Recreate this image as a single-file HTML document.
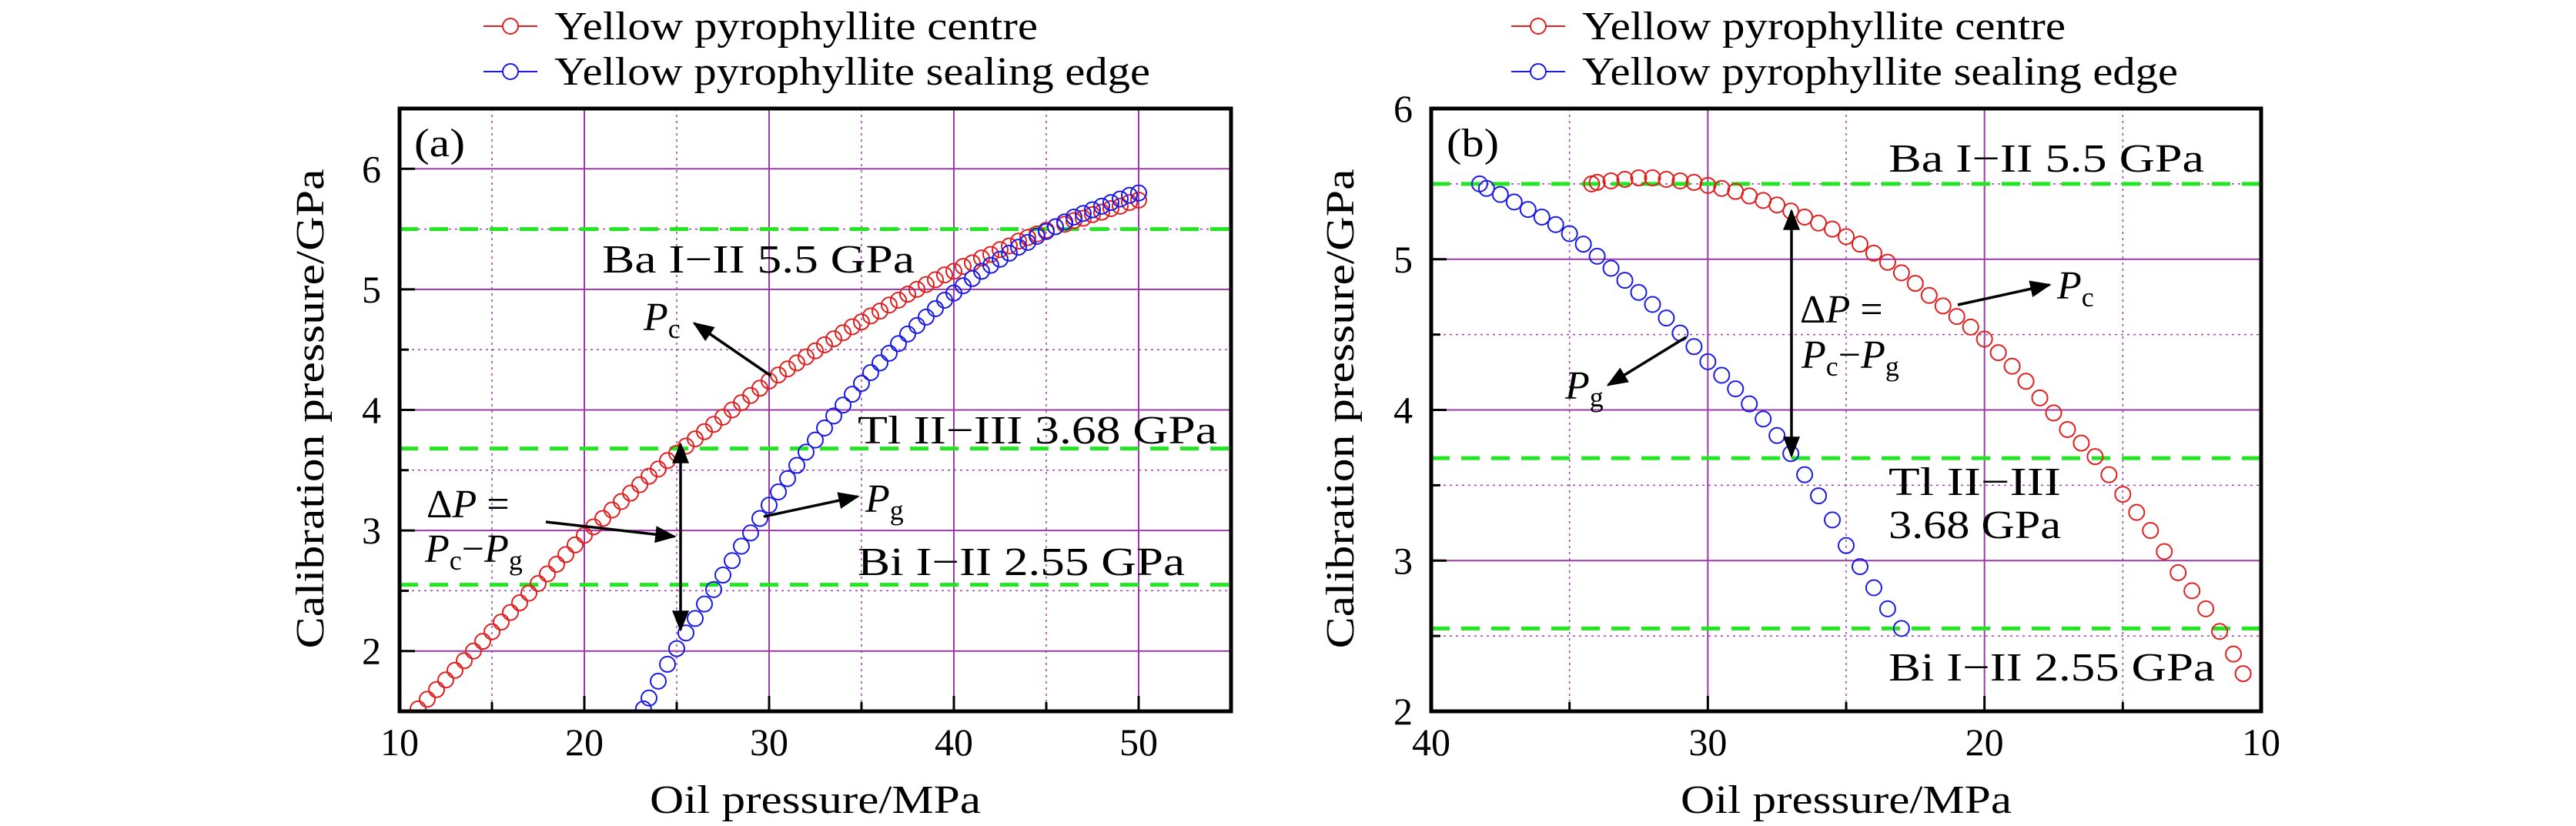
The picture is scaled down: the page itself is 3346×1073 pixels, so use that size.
<!DOCTYPE html>
<html><head><meta charset="utf-8">
<style>
html,body{margin:0;padding:0;background:#fff;}
svg{display:block;font-family:"Liberation Serif","DejaVu Serif",serif;}
</style></head>
<body>
<svg id="chart" width="3346" height="1073" viewBox="0 0 3346 1073" xmlns="http://www.w3.org/2000/svg">
<defs>
<clipPath id="clipA"><rect x="519" y="141" width="1080" height="783"/></clipPath>
<clipPath id="clipB"><rect x="1859" y="141" width="1078" height="783"/></clipPath>
</defs>
<g id="gA"></g>
<g id="gB"></g>
</svg>
<script>
// ---- Panel (a) data ----
const aRedX = [11,11.5,12,12.5,13,13.5,14,14.5,15,15.5,16,16.5,17,17.5,18,18.5,19,19.5,20,20.5,21,21.5,22,22.5,23,23.5,24,24.5,25,25.5,26,26.5,27,27.5,28,28.5,29,29.5,30,30.5,31,31.5,32,32.5,33,33.5,34,34.5,35,35.5,36,36.5,37,37.5,38,38.5,39,39.5,40,40.5,41,41.5,42,42.5,43,43.5,44,44.5,45,45.5,46,46.5,47,47.5,48,48.5,49,49.5,50];
const aRedY = [1.52,1.60,1.68,1.76,1.84,1.92,2.00,2.08,2.16,2.24,2.32,2.40,2.48,2.56,2.64,2.72,2.80,2.88,2.96,3.03,3.10,3.17,3.24,3.31,3.38,3.45,3.51,3.58,3.64,3.70,3.76,3.82,3.88,3.94,4.00,4.06,4.12,4.18,4.24,4.29,4.34,4.39,4.44,4.49,4.54,4.59,4.64,4.69,4.73,4.78,4.82,4.87,4.91,4.96,5.00,5.04,5.08,5.12,5.15,5.19,5.22,5.26,5.29,5.33,5.36,5.40,5.43,5.46,5.49,5.52,5.54,5.57,5.59,5.62,5.64,5.67,5.69,5.72,5.74];
const aBlueX = [23.2,23.5,24,24.5,25,25.5,26,26.5,27,27.5,28,28.5,29,29.5,30,30.5,31,31.5,32,32.5,33,33.5,34,34.5,35,35.5,36,36.5,37,37.5,38,38.5,39,39.5,40,40.5,41,41.5,42,42.5,43,43.5,44,44.5,45,45.5,46,46.5,47,47.5,48,48.5,49,49.5,50];
const aBlueY = [1.52,1.61,1.75,1.89,2.02,2.15,2.27,2.39,2.51,2.63,2.75,2.87,2.98,3.10,3.21,3.32,3.43,3.54,3.65,3.75,3.85,3.95,4.04,4.13,4.22,4.31,4.39,4.47,4.55,4.63,4.70,4.77,4.84,4.91,4.97,5.03,5.09,5.15,5.20,5.25,5.30,5.35,5.39,5.44,5.48,5.52,5.56,5.60,5.63,5.66,5.69,5.72,5.75,5.78,5.80];
const aXTicks = [10,20,30,40,50];
const aXMinor = [15,25,35,45];
const aYTicks = [2,3,4,5,6];
const aYMinor = [2.5,3.5,4.5,5.5];
const aRefLines = [5.5,3.68,2.55];
// ---- Panel (b) data ----
const bRedX = [34.2,34,33.5,33,32.5,32,31.5,31,30.5,30,29.5,29,28.5,28,27.5,27,26.5,26,25.5,25,24.5,24,23.5,23,22.5,22,21.5,21,20.5,20,19.5,19,18.5,18,17.5,17,16.5,16,15.5,15,14.5,14,13.5,13,12.5,12,11.5,11,10.65];
const bRedY = [5.50,5.51,5.52,5.53,5.54,5.54,5.53,5.52,5.51,5.49,5.47,5.45,5.42,5.39,5.36,5.32,5.28,5.24,5.20,5.15,5.10,5.04,4.98,4.91,4.84,4.76,4.69,4.62,4.55,4.47,4.38,4.29,4.19,4.08,3.98,3.87,3.78,3.69,3.57,3.44,3.32,3.20,3.06,2.92,2.80,2.68,2.53,2.38,2.25];
const bBlueX = [38.25,38,37.5,37,36.5,36,35.5,35,34.5,34,33.5,33,32.5,32,31.5,31,30.5,30,29.5,29,28.5,28,27.5,27,26.5,26,25.5,25,24.5,24,23.5,23];
const bBlueY = [5.50,5.47,5.43,5.38,5.33,5.28,5.23,5.17,5.10,5.02,4.94,4.86,4.78,4.70,4.61,4.51,4.42,4.32,4.23,4.14,4.04,3.94,3.83,3.71,3.57,3.43,3.27,3.10,2.96,2.82,2.68,2.55];
const bXTicks = [40,30,20,10];
const bXMinor = [35,25,15];
const bYTicks = [2,3,4,5,6];
const bYMinor = [2.5,3.5,4.5,5.5];
const bRefLines = [5.5,3.68,2.55];

const NS = "http://www.w3.org/2000/svg";
function mk(tag, attrs, parent){
  const e = document.createElementNS(NS, tag);
  for (const k in attrs) e.setAttribute(k, attrs[k]);
  parent.appendChild(e);
  return e;
}

function drawPanel(g, P){
  const sx = v => P.L + (v - P.x0) / (P.x1 - P.x0) * (P.R - P.L);
  const sy = v => P.B - (v - P.y0) / (P.y1 - P.y0) * (P.B - P.T);
  P.xMinor.forEach(v => {
    const l = mk('line',{x1:sx(v),x2:sx(v),y1:P.T,y2:P.B,stroke:'#a040b0','stroke-width':1.5,'stroke-dasharray':'3 5'},g);
    
    
    const t = mk('line',{x1:sx(v),x2:sx(v),y1:P.B,y2:P.B-12,stroke:'#000','stroke-width':3},g);
    
    
  });
  P.yMinor.forEach(v => {
    const l = mk('line',{x1:P.L,x2:P.R,y1:sy(v),y2:sy(v),stroke:'#a040b0','stroke-width':1.5,'stroke-dasharray':'3 5'},g);
    
    
    const t = mk('line',{x1:P.L,x2:P.L+12,y1:sy(v),y2:sy(v),stroke:'#000','stroke-width':3},g);
    
    
  });
  P.xTicks.forEach(v => {
    const l = mk('line',{x1:sx(v),x2:sx(v),y1:P.T,y2:P.B,stroke:'#9a3aa6','stroke-width':2},g);
    
    
    const t = mk('line',{x1:sx(v),x2:sx(v),y1:P.B,y2:P.B-20,stroke:'#000','stroke-width':3},g);
    
    
    const tx = mk('text',{x:sx(v),y:P.B+57,'font-size':50,'text-anchor':'middle',fill:'#000'},g);
    tx.textContent = String(v);
    
    
  });
  P.yTicks.forEach(v => {
    const l = mk('line',{x1:P.L,x2:P.R,y1:sy(v),y2:sy(v),stroke:'#9a3aa6','stroke-width':2},g);
    
    
    const t = mk('line',{x1:P.L,x2:P.L+20,y1:sy(v),y2:sy(v),stroke:'#000','stroke-width':3},g);
    
    
    const tx = mk('text',{x:P.L-24,y:sy(v)+17,'font-size':50,'text-anchor':'end',fill:'#000'},g);
    tx.textContent = String(v);
    
    
  });
  P.ref.forEach(v => {
    const l = mk('line',{x1:P.L,x2:P.R,y1:sy(v),y2:sy(v),stroke:'#22e622','stroke-width':5,'stroke-dasharray':'24 15'},g);
    
    
  });
  const sg = mk('g',{'clip-path':'url(#'+P.clip+')'},g);
  P.series.forEach(s => {
    const sgg = mk('g',{},sg);
    
    
    s.x.forEach((xv,i) => {
      const c = mk('circle',{cx:sx(xv),cy:sy(s.y[i]),r:10,fill:'none',stroke:s.color,'stroke-width':2},sgg);
      
      
    });
  });
  const f = mk('rect',{x:P.L,y:P.T,width:P.R-P.L,height:P.B-P.T,fill:'none',stroke:'#000','stroke-width':5},g);
  
  
  const xt = mk('text',{x:(P.L+P.R)/2,y:1056,'font-size':52,'text-anchor':'middle',fill:'#000',textLength:430,lengthAdjust:'spacingAndGlyphs'},g);
  xt.textContent = 'Oil pressure/MPa';
  
  
  const yt = mk('text',{x:0,y:0,'font-size':52,'text-anchor':'middle',fill:'#000',textLength:623,lengthAdjust:'spacingAndGlyphs',transform:'translate('+P.ylx+',531) rotate(-90)'},g);
  yt.textContent = 'Calibration pressure/GPa';
  
  
  P.series.forEach((s,i) => {
    const y = 34 + i*59;
    const lg = mk('g',{},g);
    
    
    mk('line',{x1:P.legX,x2:P.legX+70,y1:y,y2:y,stroke:s.color,'stroke-width':2},lg);
    mk('circle',{cx:P.legX+35,cy:y,r:10,fill:'#fff',stroke:s.color,'stroke-width':2},lg);
    const t = mk('text',{x:P.legX+92,y:y+17,'font-size':52,fill:'#000',textLength:s.lw,lengthAdjust:'spacingAndGlyphs'},lg);
    t.textContent = s.label;
  });
}

drawPanel(document.getElementById('gA'), {
  L:519,R:1599,T:141,B:924,x0:10,x1:55,y0:1.5,y1:6.5,clip:'clipA',
  xTicks:aXTicks,xMinor:aXMinor,yTicks:aYTicks,yMinor:aYMinor,ref:aRefLines,ylx:420,legX:628,
  series:[
    {name:'series-centre',label:'Yellow pyrophyllite centre',color:'#e02020',x:aRedX,y:aRedY,lw:628},
    {name:'series-sealing-edge',label:'Yellow pyrophyllite sealing edge',color:'#1a1ae6',x:aBlueX,y:aBlueY,lw:774}
  ]
});
drawPanel(document.getElementById('gB'), {
  L:1859,R:2937,T:141,B:924,x0:40,x1:10,y0:2,y1:6,clip:'clipB',
  xTicks:bXTicks,xMinor:bXMinor,yTicks:bYTicks,yMinor:bYMinor,ref:bRefLines,ylx:1758,legX:1963,
  series:[
    {name:'series-centre',label:'Yellow pyrophyllite centre',color:'#e02020',x:bRedX,y:bRedY,lw:628},
    {name:'series-sealing-edge',label:'Yellow pyrophyllite sealing edge',color:'#1a1ae6',x:bBlueX,y:bBlueY,lw:774}
  ]
});
</script>
<svg style="position:absolute;left:0;top:0" width="3346" height="1073" viewBox="0 0 3346 1073" xmlns="http://www.w3.org/2000/svg" font-family="Liberation Serif, DejaVu Serif, serif" font-size="52">
<defs>
<marker id="ah2" viewBox="0 0 10 8" markerWidth="30" markerHeight="22" refX="9" refY="4" orient="auto-start-reverse" markerUnits="userSpaceOnUse">
<path d="M0,0 L10,4 L0,8 z" fill="#000"/>
</marker>
</defs>
<text x="538" y="203" textLength="66" lengthAdjust="spacingAndGlyphs">(a)</text>
<text x="782" y="354" textLength="406" lengthAdjust="spacingAndGlyphs">Ba I−II 5.5 GPa</text>
<text x="1114" y="576" textLength="467" lengthAdjust="spacingAndGlyphs">Tl II−III 3.68 GPa</text>
<text x="1114" y="747" textLength="425" lengthAdjust="spacingAndGlyphs">Bi I−II 2.55 GPa</text>
<text x="836" y="429"><tspan font-style="italic">P</tspan><tspan font-size="36" dy="10">c</tspan></text>
<line x1="1001" y1="488" x2="902" y2="420" stroke="#000" stroke-width="3.5" marker-end="url(#ah2)"/>
<text x="1124" y="665"><tspan font-style="italic">P</tspan><tspan font-size="36" dy="10">g</tspan></text>
<line x1="992" y1="671" x2="1114" y2="645" stroke="#000" stroke-width="3.5" marker-end="url(#ah2)"/>
<text x="554" y="672">Δ<tspan font-style="italic">P</tspan> =</text>
<text x="552" y="730"><tspan font-style="italic">P</tspan><tspan font-size="36" dy="10">c</tspan><tspan dy="-10">−</tspan><tspan font-style="italic">P</tspan><tspan font-size="36" dy="10">g</tspan></text>
<line x1="709" y1="678" x2="876" y2="697" stroke="#000" stroke-width="3.5" marker-end="url(#ah2)"/>
<line x1="884" y1="577" x2="884" y2="818" stroke="#000" stroke-width="3.5" marker-start="url(#ah2)" marker-end="url(#ah2)"/>
<text x="1879" y="203" textLength="68" lengthAdjust="spacingAndGlyphs">(b)</text>
<text x="2453" y="223" textLength="410" lengthAdjust="spacingAndGlyphs">Ba I−II 5.5 GPa</text>
<text x="2453" y="643" textLength="224" lengthAdjust="spacingAndGlyphs">Tl II−III</text>
<text x="2453" y="699" textLength="224" lengthAdjust="spacingAndGlyphs">3.68 GPa</text>
<text x="2453" y="884" textLength="424" lengthAdjust="spacingAndGlyphs">Bi I−II 2.55 GPa</text>
<text x="2338" y="419">Δ<tspan font-style="italic">P</tspan> =</text>
<text x="2340" y="478"><tspan font-style="italic">P</tspan><tspan font-size="36" dy="10">c</tspan><tspan dy="-10">−</tspan><tspan font-style="italic">P</tspan><tspan font-size="36" dy="10">g</tspan></text>
<line x1="2327" y1="274" x2="2327" y2="592" stroke="#000" stroke-width="3.5" marker-start="url(#ah2)" marker-end="url(#ah2)"/>
<text x="2672" y="388"><tspan font-style="italic">P</tspan><tspan font-size="36" dy="10">c</tspan></text>
<line x1="2543" y1="396" x2="2662" y2="370" stroke="#000" stroke-width="3.5" marker-end="url(#ah2)"/>
<text x="2033" y="518"><tspan font-style="italic">P</tspan><tspan font-size="36" dy="10">g</tspan></text>
<line x1="2190" y1="438" x2="2089" y2="500" stroke="#000" stroke-width="3.5" marker-end="url(#ah2)"/>
</svg>
</body></html>
